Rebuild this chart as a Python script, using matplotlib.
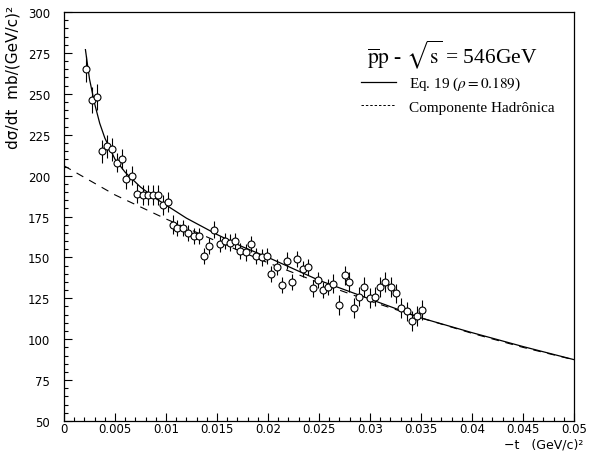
import matplotlib
matplotlib.use("Agg")
from matplotlib import pyplot as plt
from matplotlib.lines import Line2D
from matplotlib.ticker import MultipleLocator, FixedFormatter, FixedLocator

# measured points: -t (GeV/c)^2 and dsigma/dt (mb/(GeV/c)^2)
t_data = [0.0022, 0.0027, 0.0032, 0.0037, 0.0042, 0.0047, 0.0052, 0.0057,
          0.0061, 0.0067, 0.0072, 0.0077, 0.0082, 0.0087, 0.0092, 0.0097,
          0.0102, 0.0107, 0.0111, 0.0117, 0.0122, 0.0127, 0.0132, 0.0137,
          0.0142, 0.0147, 0.0153, 0.0158, 0.0163, 0.0168, 0.0173, 0.0178,
          0.0183, 0.0188, 0.0194, 0.0199, 0.0203, 0.0209, 0.0214, 0.0219,
          0.0224, 0.0228, 0.0234, 0.0239, 0.0244, 0.0249, 0.0254, 0.0259,
          0.0264, 0.0270, 0.0275, 0.0279, 0.0284, 0.0289, 0.0294, 0.0300,
          0.0305, 0.0310, 0.0315, 0.0321, 0.0325, 0.0330, 0.0336, 0.0341,
          0.0346, 0.0351]
y_data = [265, 246, 248, 215, 218, 216, 208, 210,
          198, 200, 189, 188, 188, 188, 188, 182,
          184, 170, 168, 168, 165, 163, 163, 151,
          157, 167, 158, 160, 159, 160, 154, 153,
          158, 151, 150, 151, 140, 144, 133, 148,
          135, 149, 143, 144, 131, 136, 130, 132,
          134, 121, 139, 135, 119, 126, 132, 125,
          126, 132, 135, 132, 128, 119, 117, 111,
          114, 118]
y_err = [8, 8, 8, 7, 7, 7, 6, 6,
         6, 6, 6, 6, 6, 6, 6, 6,
         6, 6, 5, 5, 5, 5, 5, 5,
         5, 5, 5, 5, 5, 5, 5, 5,
         5, 5, 5, 5, 5, 5, 5, 5,
         5, 5, 5, 5, 5, 5, 5, 5,
         6, 6, 6, 6, 6, 6, 6, 6,
         6, 6, 6, 6, 6, 6, 6, 6,
         6, 6]

# Eq. 19 curve
t_eq = [0.0021, 0.0025, 0.003, 0.0035, 0.004, 0.005, 0.006, 0.0075, 0.009,
        0.0105, 0.012, 0.0135, 0.015, 0.0175, 0.020, 0.025, 0.030, 0.035,
        0.040, 0.045, 0.050]
y_eq = [277, 259, 244, 232, 223, 210, 202, 193, 186,
        180, 174, 169, 164, 156.5, 150, 136, 124.5, 113,
        104, 95.5, 87.5]

# hadronic component
t_had = [0.0, 0.005, 0.01, 0.015, 0.02, 0.025, 0.03, 0.035, 0.04, 0.045, 0.05]
y_had = [206, 188.2, 173.5, 159.8, 146.7, 134.5, 123.3, 113, 103.6, 95, 87.4]

x_ticks = [0, 0.005, 0.01, 0.015, 0.02, 0.025, 0.03, 0.035, 0.04, 0.045, 0.05]
x_labels = ['0', '0.005', '0.01', '0.015', '0.02', '0.025', '0.03', '0.035',
            '0.04', '0.045', '0.05']

plt.rcParams['mathtext.fontset'] = 'stix'

fig = plt.figure(figsize=(5.96, 4.52), dpi=100)
ax = fig.add_axes([0.1074, 0.0664, 0.8557, 0.9048])

ax.plot(t_eq, y_eq, color='black', lw=0.9)
ax.plot(t_had, y_had, color='black', lw=0.8, dashes=(7, 6))
ax.errorbar(t_data, y_data, yerr=y_err, fmt='o', ms=5, mfc='white',
            mec='black', mew=0.8, ecolor='black', elinewidth=0.8,
            capsize=0, zorder=3)

ax.set_xlim(0, 0.05)
ax.set_ylim(50, 300)
ax.xaxis.set_major_locator(FixedLocator(x_ticks))
ax.xaxis.set_major_formatter(FixedFormatter(x_labels))
ax.xaxis.set_minor_locator(MultipleLocator(0.001))
ax.yaxis.set_major_locator(MultipleLocator(25))
ax.yaxis.set_minor_locator(MultipleLocator(5))
ax.tick_params(which='both', direction='in', top=False, right=False,
               width=0.8, labelsize=8.5)
ax.tick_params(which='major', length=6)
ax.tick_params(which='minor', length=3)
ax.tick_params(axis='y', pad=10)
ax.tick_params(axis='x', pad=1)
for s in ax.spines.values():
    s.set_linewidth(0.9)

ax.text(0.761, 0.899, r'$\mathrm{\overline{p}p}$ - $\sqrt{\mathrm{s}}$ = 546GeV',
        transform=ax.transAxes, ha='center', va='center', fontsize=15.5,
        family='Liberation Serif')

handles = [Line2D([], [], color='black', lw=0.9),
           Line2D([], [], color='black', lw=0.7, dashes=(2.5, 2))]
labels = [r'Eq. 19 ($\rho = 0.189$)', 'Componente Hadrônica']
ax.legend(handles, labels, loc='upper left', bbox_to_anchor=(0.555, 0.88),
          frameon=False, prop={'family': 'Liberation Serif', 'size': 11},
          handlelength=2.3, handletextpad=0.85, labelspacing=0.5)

fig.text(0.022, 0.988, 'dσ/dt  mb/(GeV/c)²', rotation=90,
         ha='center', va='top', fontsize=11, family='DejaVu Sans')
fig.text(0.978, 0.002, '−t   (GeV/c)²', ha='right', va='bottom',
         fontsize=9, family='DejaVu Sans')

fig.savefig('out.png', dpi=100)
